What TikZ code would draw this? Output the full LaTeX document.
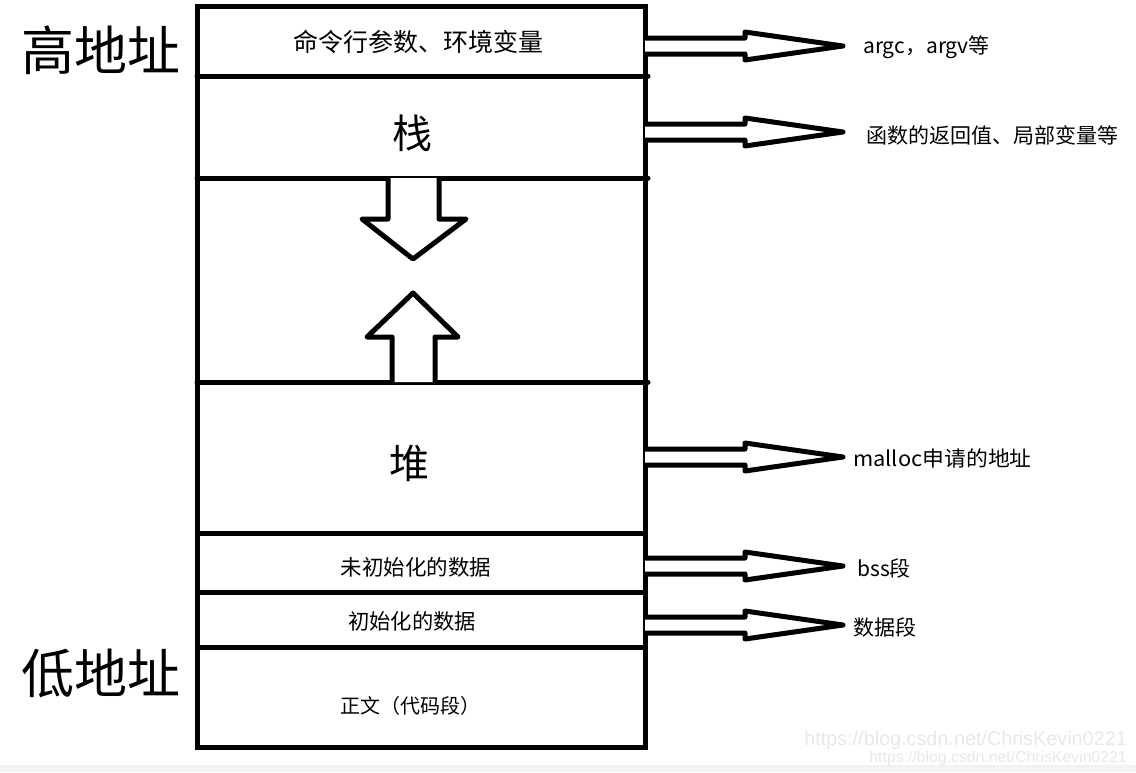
\documentclass[tikz,border=0pt]{standalone}
\usepackage{fontspec}
\newfontfamily\cjk{Noto Sans CJK SC}
\newfontfamily\wmfont{Liberation Sans}
\begin{document}
\begin{tikzpicture}[x=1pt,y=-1pt,
  boxline/.style={line width=5pt},
  nubline/.style={line width=5pt, line cap=round},
  blockarrow/.style={line width=5pt, line join=round, fill=white},
  lbl/.style={inner sep=0pt, font=\cjk\fontsize{#1}{#1}\selectfont},
  lbl/.default=21,
  wm/.style={inner sep=0pt, anchor=east, text=black!9, font=\wmfont\fontsize{#1}{#1}\selectfont},
  rarrow/.pic={\draw[blockarrow] (0,-8) -- (100,-8) -- (100,-14) -- (198,0) -- (100,14) -- (100,8) -- (0,8);}
]
\useasboundingbox (0,0) rectangle (1136,772);
\fill[white] (0,0) rectangle (1136,772);
\fill[black!5] (0,765) rectangle (1136,772);

% memory box
\draw[boxline] (197,6) rectangle (645,747);
\draw[nubline] (197,76) -- (648,76);
\draw[nubline] (197,178) -- (648,178);
\draw[nubline] (197,382) -- (648,382);
\draw[boxline] (197,533) -- (645,533);
\draw[boxline] (197,592) -- (645,592);
\draw[boxline] (197,647) -- (645,647);

% growth arrows
\draw[blockarrow] (388,178) -- (388,219) -- (362,219) -- (413,259) -- (466,219) -- (439,219) -- (439,178);
\draw[blockarrow] (392,382) -- (392,337) -- (367,337) -- (413,293) -- (458,337) -- (435,337) -- (435,382);

% side labels
\node[lbl=53] (high) at (101,50) {高地址};
\node[lbl=53] (low) at (101,673) {低地址};

% segment labels
\node[lbl=25] (args) at (418,42) {命令行参数、环境变量};
\node[lbl=40] (stack) at (412,133) {栈};
\node[lbl=40] (heap) at (409,463) {堆};
\node[lbl=21.5] (bss) at (416,567) {未初始化的数据};
\node[lbl=21.3] (data) at (412,621) {初始化的数据};
\node[lbl=20] (text) at (410,706) {正文（代码段）};

% arrow start points on the box edge
\coordinate (p1) at (645,46);
\coordinate (p2) at (645,132);
\coordinate (p3) at (645,457);
\coordinate (p4) at (645,566);
\coordinate (p5) at (645,625);
\pic at (p1) {rarrow};
\pic at (p2) {rarrow};
\pic at (p3) {rarrow};
\pic at (p4) {rarrow};
\pic at (p5) {rarrow};

% right labels
\node[lbl, anchor=west] (r1) at (863,47) {argc，argv等};
\node[lbl, anchor=west] (r2) at (866,135) {函数的返回值、局部变量等};
\node[lbl, anchor=west, xscale=1.04] (r3) at (853,458) {malloc申请的地址};
\node[lbl, anchor=west] (r4) at (857,568) {bss段};
\node[lbl, anchor=west] (r5) at (853,627) {数据段};

% watermark
\node[wm=19.8] (wm1) at (1127,740) {https://blog.csdn.net/ChrisKevin0221};
\node[wm=15.8] (wm2) at (1127,758) {https://blog.csdn.net/ChrisKevin0221};
\end{tikzpicture}
\end{document}
